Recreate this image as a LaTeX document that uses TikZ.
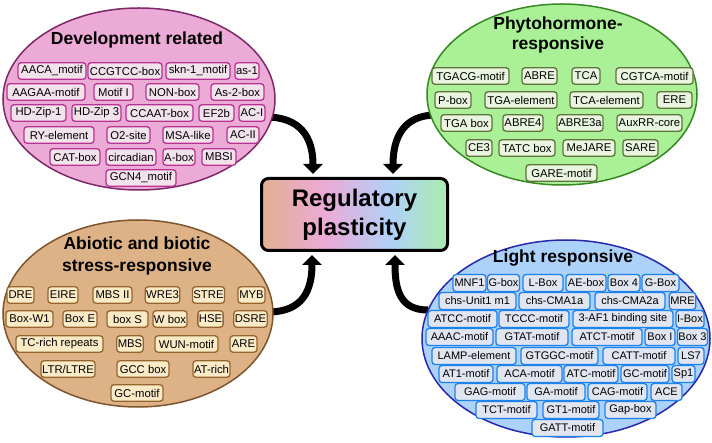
\documentclass[tikz,border=0pt]{standalone}
\usepackage{fontspec}
\setmainfont{Liberation Sans}
\usetikzlibrary{arrows.meta,shapes.geometric,calc}
\definecolor{pinkfill}{RGB}{236,170,214}
\definecolor{pinkline}{RGB}{125,40,105}
\definecolor{pinkbox}{RGB}{242,226,236}
\definecolor{pinkboxline}{RGB}{185,50,145}
\definecolor{greenfill}{RGB}{170,240,150}
\definecolor{greenline}{RGB}{55,135,35}
\definecolor{greenbox}{RGB}{234,245,224}
\definecolor{greenboxline}{RGB}{95,115,60}
\definecolor{tanfill}{RGB}{222,178,135}
\definecolor{tanline}{RGB}{125,85,45}
\definecolor{tanbox}{RGB}{250,234,198}
\definecolor{tanboxline}{RGB}{150,100,45}
\definecolor{bluefill}{RGB}{172,210,250}
\definecolor{blueline}{RGB}{40,40,170}
\definecolor{bluebox}{RGB}{224,229,240}
\definecolor{blueboxline}{RGB}{30,130,235}
\definecolor{gtan}{RGB}{226,176,145}
\definecolor{gpink}{RGB}{236,170,214}
\definecolor{gblue}{RGB}{175,210,248}
\definecolor{ggreen}{RGB}{170,236,172}
\pgfdeclarehorizontalshading{rpshade}{100bp}{color(0bp)=(gtan); color(25bp)=(gtan); color(42bp)=(gpink); color(60bp)=(gblue); color(75bp)=(ggreen); color(100bp)=(ggreen)}
\newcount\bxn
\newcommand\mb[5]{\global\advance\bxn by 1\relax\node[#1, minimum width={(#3-#2)*1pt}] (bx\the\bxn) at ({(#2+#3)/2},#4) {#5};}
\tikzset{
  sbox/.style={draw, rounded corners=3pt, line width=1.3pt, minimum height=16.5pt, inner xsep=1pt, inner ysep=0pt, font=\fontsize{11.3}{13}\selectfont},
  pb/.style={sbox, fill=pinkbox, draw=pinkboxline},
  gb/.style={sbox, fill=greenbox, draw=greenboxline},
  tb/.style={sbox, fill=tanbox, draw=tanboxline},
  bb/.style={sbox, fill=bluebox, draw=blueboxline, minimum height=17pt, font=\fontsize{11}{13}\selectfont},
  ell/.style={ellipse, draw, line width=1.5pt, inner sep=0pt},
  ttl/.style={font=\bfseries\fontsize{17.5}{20}\selectfont, align=center},
  arr/.style={line width=7pt, -{Triangle[width=19pt,length=10pt]}}
}
\begin{document}
\begin{tikzpicture}[x=1pt,y=-1pt]
\useasboundingbox (0,0) rectangle (712,443);
% central box
\node[draw, line width=3pt, rounded corners=7pt, shading=rpshade, minimum width=186pt, minimum height=72pt, align=center, font=\bfseries\fontsize{24}{29}\selectfont] (rp) at (354.5,214.5) {Regulatory\\plasticity};
% arrow start coordinates
\coordinate (s1) at (266,117);
\coordinate (s2) at (436,115);
\coordinate (s3) at (268,312);
\coordinate (s4) at (428,310);
\draw[arr] (s1) .. controls (300,117) and ($(rp.north west)+(53,-40)$) .. ($(rp.north west)+(53,-3)$);
\draw[arr] (s2) .. controls (404,115) and ($(rp.north west)+(133,-40)$) .. ($(rp.north west)+(133,-3)$);
\draw[arr] (s3) .. controls (303,312) and ($(rp.south west)+(52,38)$) .. ($(rp.south west)+(52,3)$);
\draw[arr] (s4) .. controls (400,310) and ($(rp.south west)+(135,38)$) .. ($(rp.south west)+(135,3)$);
% ellipses
\node[ell, fill=pinkfill, draw=pinkline, minimum width=272pt, minimum height=182pt] (dev) at (139,99) {};
\node[ell, fill=greenfill, draw=greenline, minimum width=270pt, minimum height=181pt] (phy) at (562,94.5) {};
\node[ell, fill=tanfill, draw=tanline, minimum width=270pt, minimum height=187pt] (abi) at (138,313.5) {};
\node[ell, fill=bluefill, draw=blueline, minimum width=288pt, minimum height=197pt] (lig) at (566,338.5) {};
% titles
\node[ttl] (t1) at (137,40) {Development related};
\node[ttl] (t2) at (558,35) {Phytohormone-\\responsive};
\node[ttl, font=\bfseries\fontsize{17.5}{22}\selectfont] (t3) at (137,256) {Abiotic and biotic\\stress-responsive};
\node[ttl] (t4) at (563,258) {Light responsive};
% development boxes
\mb{pb}{18}{86}{71}{AACA\_motif}
\mb{pb}{88}{162}{71}{CCGTCC-box}
\mb{pb}{166}{230}{71}{skn-1\_motif}
\mb{pb}{235}{259}{71}{as-1}
\mb{pb}{7}{85}{92}{AAGAA-motif}
\mb{pb}{94}{133}{92}{Motif I}
\mb{pb}{146}{199}{92}{NON-box}
\mb{pb}{211}{264}{92}{As-2-box}
\mb{pb}{11}{66}{113}{HD-Zip-1}
\mb{pb}{72}{121}{113}{HD-Zip 3}
\mb{pb}{126}{193}{113}{CCAAT-box}
\mb{pb}{199}{234}{113}{EF2b}
\mb{pb}{239}{265}{113}{AC-I}
\mb{pb}{24}{94}{135}{RY-element}
\mb{pb}{107}{150}{135}{O2-site}
\mb{pb}{163}{213}{135}{MSA-like}
\mb{pb}{227}{259}{135}{AC-II}
\mb{pb}{50}{100}{157}{CAT-box}
\mb{pb}{106}{156}{157}{circadian}
\mb{pb}{163}{195}{157}{A-box}
\mb{pb}{202}{236}{157}{MBSI}
\mb{pb}{106}{176}{178}{GCN4\_motif}
% phytohormone boxes
\mb{gb}{432}{509}{76}{TGACG-motif}
\mb{gb}{522}{557}{76}{ABRE}
\mb{gb}{572}{600}{76}{TCA}
\mb{gb}{616}{693}{76}{CGTCA-motif}
\mb{gb}{435}{471}{100}{P-box}
\mb{gb}{485}{557}{100}{TGA-element}
\mb{gb}{570}{643}{100}{TCA-element}
\mb{gb}{657}{692}{100}{ERE}
\mb{gb}{441}{492}{123}{TGA box}
\mb{gb}{503}{543}{123}{ABRE4}
\mb{gb}{557}{603}{123}{ABRE3a}
\mb{gb}{617}{682}{123}{AuxRR-core}
\mb{gb}{466}{492}{148}{CE3}
\mb{gb}{499}{555}{148}{TATC box}
\mb{gb}{563}{615}{148}{MeJARE}
\mb{gb}{623}{658}{148}{SARE}
\mb{gb}{526}{597}{173}{GARE-motif}
% abiotic boxes
\mb{tb}{7}{34}{295}{DRE}
\mb{tb}{48}{78}{295}{EIRE}
\mb{tb}{93}{132}{295}{MBS II}
\mb{tb}{147}{178}{295}{WRE3}
\mb{tb}{193}{224}{295}{STRE}
\mb{tb}{238}{265}{295}{MYB}
\mb{tb}{6}{53}{319}{Box-W1}
\mb{tb}{63}{97}{319}{Box E}
\mb{tb}{107}{148}{319}{box S}
\mb{tb}{153}{187}{319}{W box}
\mb{tb}{198}{223}{319}{HSE}
\mb{tb}{234}{267}{319}{DSRE}
\mb{tb}{16}{103}{344}{TC-rich repeats}
\mb{tb}{117}{143}{344}{MBS}
\mb{tb}{155}{218}{344}{WUN-motif}
\mb{tb}{230}{257}{344}{ARE}
\mb{tb}{41}{95}{369}{LTR/LTRE}
\mb{tb}{117}{169}{369}{GCC box}
\mb{tb}{193}{230}{369}{AT-rich}
\mb{tb}{111}{163}{393}{GC-motif}
% light boxes
\mb{bb}{453}{486}{283}{MNF1}
\mb{bb}{488}{519}{283}{G-box}
\mb{bb}{523}{563}{283}{L-Box}
\mb{bb}{566}{606}{283}{AE-box}
\mb{bb}{608}{640}{283}{Box 4}
\mb{bb}{642}{679}{283}{G-Box}
\mb{bb}{439}{516}{301}{chs-Unit1 m1}
\mb{bb}{519}{590}{301}{chs-CMA1a}
\mb{bb}{595}{665}{301}{chs-CMA2a}
\mb{bb}{670}{695}{301}{MRE}
\mb{bb}{428}{497}{319}{ATCC-motif}
\mb{bb}{499}{569}{319}{TCCC-motif}
\mb{bb}{573}{673}{319}{3-AF1 binding site}
\mb{bb}{676}{704}{319}{I-Box}
\mb{bb}{426}{493}{337}{AAAC-motif}
\mb{bb}{496}{568}{337}{GTAT-motif}
\mb{bb}{572}{642}{337}{ATCT-motif}
\mb{bb}{645}{675}{337}{Box I}
\mb{bb}{678}{707}{337}{Box 3}
\mb{bb}{432}{516}{356}{LAMP-element}
\mb{bb}{521}{598}{356}{GTGGC-motif}
\mb{bb}{603}{675}{356}{CATT-motif}
\mb{bb}{678}{704}{356}{LS7}
\mb{bb}{439}{493}{374}{AT1-motif}
\mb{bb}{497}{562}{374}{ACA-motif}
\mb{bb}{564}{618}{374}{ATC-motif}
\mb{bb}{621}{669}{374}{GC-motif}
\mb{bb}{672}{695}{374}{Sp1}
\mb{bb}{455}{525}{392}{GAG-motif}
\mb{bb}{527}{585}{392}{GA-motif}
\mb{bb}{588}{647}{392}{CAG-motif}
\mb{bb}{651}{682}{392}{ACE}
\mb{bb}{476}{537}{410}{TCT-motif}
\mb{bb}{543}{599}{410}{GT1-motif}
\mb{bb}{605}{656}{410}{Gap-box}
\mb{bb}{532}{603}{428}{GATT-motif}
\end{tikzpicture}
\end{document}
